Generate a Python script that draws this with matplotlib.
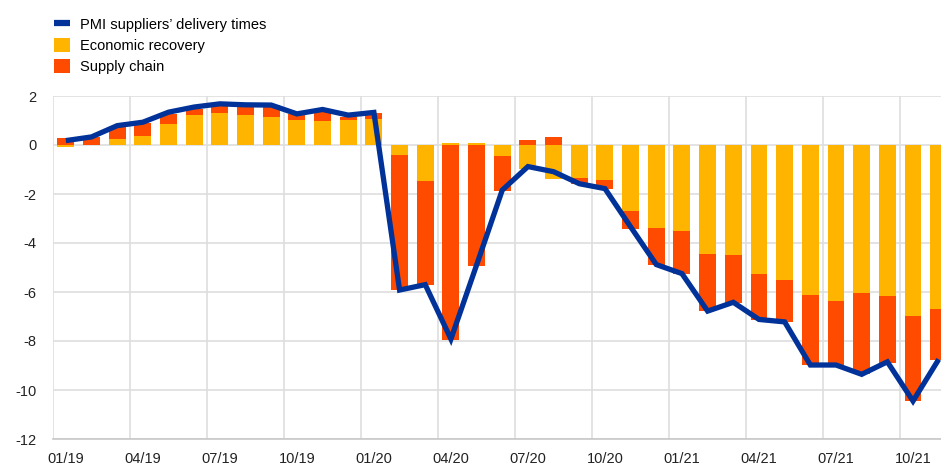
import matplotlib
matplotlib.use("Agg")
import matplotlib.pyplot as plt
import numpy as np
from matplotlib.lines import Line2D
from matplotlib.patches import Patch

plt.rcParams['font.family'] = ['Liberation Sans', 'DejaVu Sans']
plt.rcParams['axes.unicode_minus'] = False

months = ["01/19", "02/19", "03/19", "04/19", "05/19", "06/19", "07/19", "08/19", "09/19",
          "10/19", "11/19", "12/19", "01/20", "02/20", "03/20", "04/20", "05/20", "06/20",
          "07/20", "08/20", "09/20", "10/20", "11/20", "12/20", "01/21", "02/21", "03/21",
          "04/21", "05/21", "06/21", "07/21", "08/21", "09/21", "10/21", "11/21"]

economic_recovery = [-0.08, 0.02, 0.23, 0.36, 0.85, 1.23, 1.32, 1.22, 1.16, 1.01, 0.99, 1.01, 1.05,
                     -0.41, -1.47, 0.09, 0.09, -0.45, -1.00, -1.40, -1.36, -1.42, -2.69, -3.37,
                     -3.53, -4.44, -4.48, -5.25, -5.50, -6.13, -6.38, -6.04, -6.17, -6.99, -6.68]

supply_chain = [0.27, 0.29, 0.50, 0.54, 0.42, 0.25, 0.34, 0.40, 0.46, 0.27, 0.35, 0.15, 0.27,
                -5.51, -4.24, -7.96, -4.94, -1.41, 0.20, 0.31, -0.24, -0.38, -0.73, -1.51,
                -1.73, -2.34, -1.96, -1.90, -1.73, -2.85, -2.60, -3.32, -2.72, -3.46, -2.10]

pmi_delivery = [0.18, 0.33, 0.79, 0.93, 1.34, 1.55, 1.68, 1.64, 1.63, 1.27, 1.45, 1.22, 1.33,
                -5.92, -5.70, -7.92, -4.90, -1.84, -0.88, -1.09, -1.58, -1.78, -3.34, -4.88,
                -5.25, -6.78, -6.42, -7.12, -7.22, -8.98, -8.98, -9.36, -8.85, -10.45, -8.75]

YELLOW = "#FFB400"
ORANGE = "#FF4B00"
BLUE = "#003299"
GRID = "#dedede"

W, H = 941, 465
fig = plt.figure(figsize=(W / 100, H / 100), dpi=100)
left = 53 / W
bottom = (H - 439) / H
top = (H - 96) / H
ax = fig.add_axes([left, bottom, 1 - left, top - bottom])

x = np.arange(len(months))
er = np.array(economic_recovery)
sc = np.array(supply_chain)
sc_bottom = np.where(np.sign(er) == np.sign(sc), er, 0.0)

bw = 0.66
ax.bar(x, er, width=bw, color=YELLOW, zorder=2)
ax.bar(x, sc, bottom=sc_bottom, width=bw, color=ORANGE, zorder=2)
ax.plot(x, pmi_delivery, color=BLUE, lw=3.8, zorder=3, solid_joinstyle='miter', solid_capstyle='butt')

ax.set_ylim(-12, 2)
ax.set_xlim(-0.5, 34.09)
ax.set_yticks(np.arange(-12, 3, 2))
ax.yaxis.grid(True, color=GRID, lw=1.2, zorder=0)
for i in range(0, len(months), 3):
    ax.axvline(i - 0.5, color=GRID, lw=1.2, zorder=0)

ax.set_xticks(x[::3])
ax.set_xticklabels(months[::3])
ax.tick_params(axis='both', length=0, labelsize=10.5, colors='#222222')
ax.tick_params(axis='x', pad=9)
ax.tick_params(axis='y', pad=12)
for s in ['top', 'right', 'left']:
    ax.spines[s].set_visible(False)
ax.spines['bottom'].set_color('#c8c8c8')
ax.spines['bottom'].set_linewidth(1.2)

handles = [Line2D([0], [0], color=BLUE, lw=4.5, solid_capstyle='butt'),
           Patch(facecolor=YELLOW, edgecolor='none'),
           Patch(facecolor=ORANGE, edgecolor='none')]
labels = ["PMI suppliers\u2019 delivery times", "Economic recovery", "Supply chain"]
fig.legend(handles, labels, loc='upper left', bbox_to_anchor=(0.048, 0.982),
           frameon=False, fontsize=10.5, handlelength=1.1, handleheight=1.1,
           handletextpad=0.7, labelspacing=0.42, borderaxespad=0.2)

fig.savefig("out.png", dpi=100)
